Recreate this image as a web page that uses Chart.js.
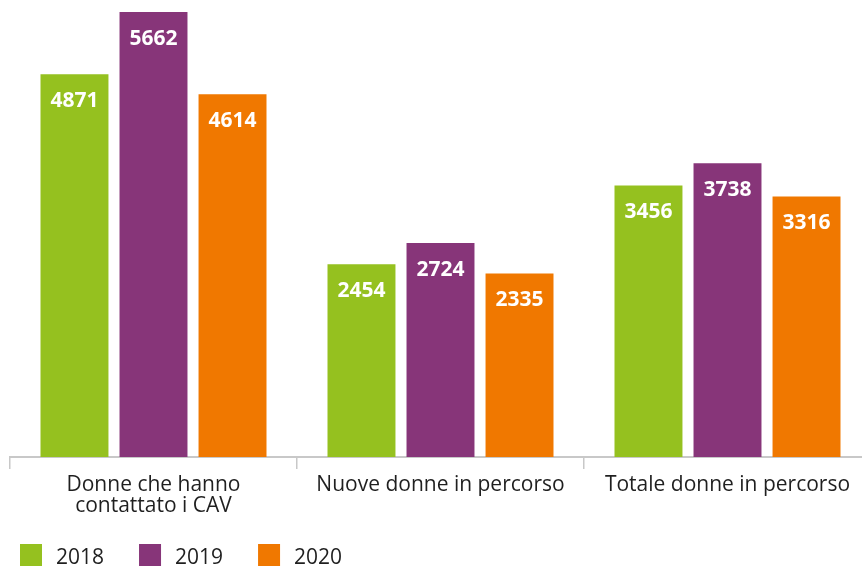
<!DOCTYPE html>
<html>
<head>
<meta charset="utf-8">
<script src="https://cdn.jsdelivr.net/npm/chart.js@4"></script>
<style>
  html, body { margin: 0; padding: 0; background: #fff; overflow: hidden; }
  #wrap { width: 872px; height: 567px; position: relative; }
</style>
</head>
<body>
<div id="wrap"><canvas id="chart"></canvas></div>
<script>
const categories = [
    ["Donne che hanno", "contattato i CAV"],
    "Nuove donne in percorso",
    "Totale donne in percorso",
];
const years = ["2018", "2019", "2020"];
const values2018 = [4871, 2454, 3456];
const values2019 = [5662, 2724, 3738];
const values2020 = [4614, 2335, 3316];
const colors = ["#95c11f", "#873579", "#f07800"];

const FONT = "'Open Sans', 'Noto Sans', sans-serif";

// white numbers at the top of each bar
const barValues = {
    id: "barValues",
    afterDatasetsDraw(chart) {
        const ctx = chart.ctx;
        ctx.save();
        ctx.fillStyle = "#ffffff";
        ctx.font = "bold 21px " + FONT;
        ctx.textAlign = "center";
        ctx.textBaseline = "middle";
        chart.data.datasets.forEach((ds, i) => {
            chart.getDatasetMeta(i).data.forEach((bar, j) => {
                ctx.fillText(String(ds.data[j]), bar.x, bar.y + 27);
            });
        });
        ctx.restore();
    },
};

// legend drawn by hand so the box/text spacing matches
const bottomLegend = {
    id: "bottomLegend",
    afterDraw(chart) {
        const ctx = chart.ctx;
        ctx.save();
        ctx.font = "21px " + FONT;
        ctx.textBaseline = "middle";
        ctx.textAlign = "left";
        let x = 20;
        const y = 544;
        chart.data.datasets.forEach((ds) => {
            ctx.fillStyle = ds.backgroundColor;
            ctx.fillRect(x, y, 22, 22);
            ctx.fillStyle = "#1f1f1f";
            ctx.fillText(ds.label, x + 36, y + 14);
            x += 36 + ctx.measureText(ds.label).width + 35;
        });
        ctx.restore();
    },
};

new Chart(document.getElementById("chart"), {
    type: "bar",
    data: {
        labels: categories,
        datasets: [
            { label: years[0], data: values2018, backgroundColor: colors[0] },
            { label: years[1], data: values2019, backgroundColor: colors[1] },
            { label: years[2], data: values2020, backgroundColor: colors[2] },
        ],
    },
    options: {
        responsive: true,
        maintainAspectRatio: false,
        animation: false,
        barPercentage: 0.86,
        categoryPercentage: 0.826,
        layout: {
            padding: { top: 12, left: 10, right: 1, bottom: 0 },
        },
        scales: {
            x: {
                grid: {
                    offset: true,
                    drawOnChartArea: false,
                    tickLength: 12,
                    color: "#c8c8c8",
                    lineWidth: 1.5,
                },
                border: { color: "#c8c8c8", width: 2 },
                ticks: {
                    color: "#1f1f1f",
                    font: { family: FONT, size: 21, lineHeight: 1.0 },
                    padding: 6,
                    maxRotation: 0,
                    autoSkip: false,
                },
                afterFit: (scale) => {
                    scale.height = 110;
                },
            },
            y: {
                display: false,
                min: 0,
                max: Math.max(...values2019),
            },
        },
        plugins: {
            legend: { display: false },
            tooltip: { enabled: false },
        },
    },
    plugins: [barValues, bottomLegend],
});
</script>
</body>
</html>
